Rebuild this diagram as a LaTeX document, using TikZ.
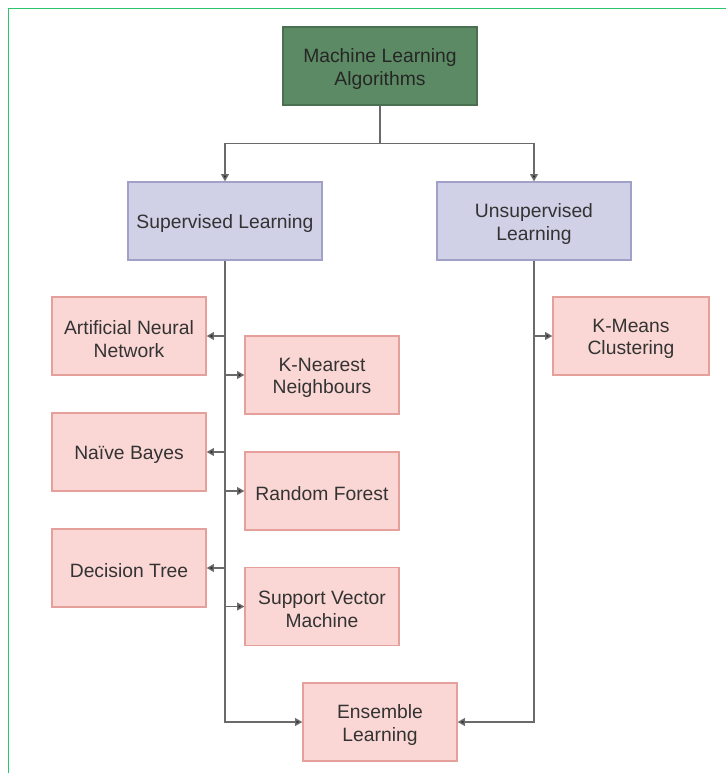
\documentclass[tikz,border=0pt]{standalone}
\usepackage{fontspec}
\setmainfont{Liberation Sans}
\usetikzlibrary{arrows.meta,calc}
\definecolor{pinkfill}{HTML}{FAD7D4}
\definecolor{pinkdraw}{HTML}{E6A09C}
\definecolor{lavfill}{HTML}{D0D0E6}
\definecolor{lavdraw}{HTML}{A0A0C8}
\definecolor{mlfill}{HTML}{5C8A64}
\definecolor{mldraw}{HTML}{4A7050}
\definecolor{txt}{HTML}{333333}
\definecolor{edge}{HTML}{6A6A6A}
\definecolor{frame}{HTML}{2BC56C}
\tikzset{
  box/.style={draw, line width=0.6pt, inner sep=0pt, minimum height=39pt},
  lbl/.style={align=center, inner sep=0pt, text=txt,
    font=\fontsize{9.65}{11.2}\selectfont},
  mlbox/.style={box, fill=mlfill, draw=mldraw, minimum width=97pt},
  catbox/.style={box, fill=lavfill, draw=lavdraw, minimum width=97pt},
  leafbox/.style={box, fill=pinkfill, draw=pinkdraw, minimum width=77pt},
  conn/.style={draw=edge, line width=0.75pt},
  arr/.style={conn, -{Triangle[length=3.6pt,width=3.8pt,fill=black!85]}}
}
\newcommand\boxlabel[3][txt]{\node[lbl, text=#1] (#2-t) at ([yshift=-1.5pt]#2.center) {#3};}
\begin{document}
\begin{tikzpicture}[x=0.5pt,y=-0.5pt]
\useasboundingbox (0,0) rectangle (726,773);
\fill[white] (0,0) rectangle (726,773);
\draw[frame, line width=0.8pt] (8.5,773) -- (8.5,8.5) -- (726,8.5);

\node[mlbox] (ml) at (380,66) {};
\node[catbox] (sup) at (225,221) {};
\node[catbox] (unsup) at (534,221) {};
\node[leafbox] (ann) at (129,336) {};
\node[leafbox] (knn) at (322,375) {};
\node[leafbox] (nb) at (129,452) {};
\node[leafbox] (rf) at (322,491) {};
\node[leafbox] (dt) at (129,568) {};
\node[leafbox] (svm) at (322,606.5) {};
\node[leafbox, minimum width=78pt] (km) at (631,336) {};
\node[leafbox] (ens) at (380,722) {};

\boxlabel[black!85]{ml}{Machine Learning\\Algorithms}
\boxlabel{sup}{Supervised Learning}
\boxlabel{unsup}{Unsupervised\\Learning}
\boxlabel{ann}{Artificial Neural\\Network}
\boxlabel{knn}{K-Nearest\\Neighbours}
\boxlabel{nb}{Naïve Bayes}
\boxlabel{rf}{Random Forest}
\boxlabel{dt}{Decision Tree}
\boxlabel{svm}{Support Vector\\Machine}
\boxlabel{km}{K-Means\\Clustering}
\boxlabel{ens}{Ensemble\\Learning}

\coordinate (j) at (380,143.5);
\draw[conn] (ml.south) -- (j);
\draw[arr] (j) -| (sup.north);
\draw[arr] (j) -| (unsup.north);

\draw[arr] (sup.south) |- (ens.west);
\draw[arr] (unsup.south) |- (ens.east);

\foreach \n in {ann,nb,dt}{
  \draw[arr] (sup.south |- \n.east) -- (\n.east);
}
\foreach \n in {knn,rf,svm}{
  \draw[arr] (sup.south |- \n.west) -- (\n.west);
}
\draw[arr] (unsup.south |- km.west) -- (km.west);
\end{tikzpicture}
\end{document}
